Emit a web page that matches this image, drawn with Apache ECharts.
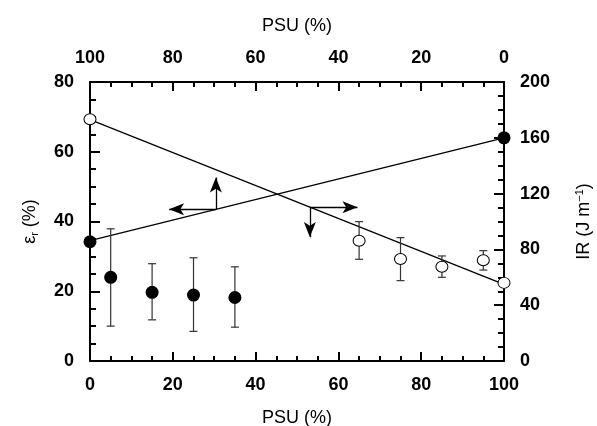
<!DOCTYPE html>
<html>
<head>
<meta charset="utf-8">
<script src="https://cdn.jsdelivr.net/npm/echarts@6/dist/echarts.min.js"></script>
<style>html,body{margin:0;padding:0;background:#fff}#c{width:597px;height:426px}</style>
</head>
<body>
<div id="c"></div>
<script>
// ε_r (left axis) plotted against top PSU axis (100 at left)
var erPSU   = [100, 95, 85, 75, 65, 0];
var erVal   = [34.2, 24.0, 19.7, 18.9, 18.2, 64.0];
var erLow   = [null, 10.0, 11.8, 8.5, 9.7, null];
var erHigh  = [null, 37.9, 27.9, 29.6, 27.0, null];
var erFitPSU = [100, 0];
var erFitVal = [34.5, 64.0];

// IR (right axis) plotted against bottom PSU axis
var irPSU   = [0, 65, 75, 85, 95, 100];
var irVal   = [173.3, 86.2, 73.1, 67.6, 72.2, 56.0];
var irLow   = [null, 72.9, 57.6, 60.0, 65.2, null];
var irHigh  = [null, 99.9, 88.4, 75.3, 79.1, null];
var irFitPSU = [0, 100];
var irFitVal = [173.0, 55.0];

// axis ticks
var psuTicks = [0, 20, 40, 60, 80, 100];
var erTicks = [0, 20, 40, 60, 80];
var irTicks = [0, 40, 80, 120, 160, 200];

// annotation arrows (data coordinates)
var erArrowBase = [69.6, 43.5], erArrowUp = [69.6, 52.6], erArrowLeft = [80.9, 43.5];
var irArrowBase = [53.1, 110.3], irArrowRight = [64.6, 110.3], irArrowDown = [53.1, 88.8];

function pairs(xs, ys) { return xs.map(function (x, i) { return [x, ys[i]]; }); }
function bars(xs, lo, hi) {
  var out = [];
  xs.forEach(function (x, i) { if (lo[i] != null) out.push([x, lo[i], hi[i]]); });
  return out;
}
function errRender(params, api) {
  var x = api.value(0), lo = api.value(1), hi = api.value(2);
  var p1 = api.coord([x, lo]), p2 = api.coord([x, hi]);
  var w = 4, st = { stroke: '#333', lineWidth: 1.2 };
  return { type: 'group', children: [
    { type: 'line', shape: { x1: p1[0], y1: p1[1], x2: p2[0], y2: p2[1] }, style: st },
    { type: 'line', shape: { x1: p1[0] - w, y1: p1[1], x2: p1[0] + w, y2: p1[1] }, style: st },
    { type: 'line', shape: { x1: p2[0] - w, y1: p2[1], x2: p2[0] + w, y2: p2[1] }, style: st }
  ]};
}

var FONT = 'Liberation Sans';
var labelStyle = { color: '#000', fontSize: 18, fontWeight: 'bold', fontFamily: FONT };
function xAx(pos, inverse) {
  return {
    type: 'value', position: pos, inverse: inverse, min: 0, max: 100, interval: 20,
    name: 'PSU (%)', nameLocation: 'middle', nameGap: pos === 'bottom' ? 48 : 47,
    nameTextStyle: { color: '#000', fontSize: 18, fontFamily: FONT },
    axisLine: { show: true, onZero: false, lineStyle: { color: '#000', width: 2 } },
    axisTick: { show: true, inside: true, length: 9, lineStyle: { color: '#000', width: 2 } },
    minorTick: { show: true, splitNumber: 4, length: 5, lineStyle: { color: '#000', width: 2 } },
    axisLabel: Object.assign({ margin: 15 }, labelStyle),
    splitLine: { show: false }, minorSplitLine: { show: false }
  };
}

var option = {
  backgroundColor: '#fff',
  animation: false,
  grid: { left: 90, right: 93, top: 82, bottom: 65, containLabel: false, outerBoundsMode: 'none' },
  xAxis: [xAx('bottom', false), xAx('top', true)],
  yAxis: [
    {
      type: 'value', position: 'left', min: 0, max: 80, interval: 20,
      name: '{a|ε}{s|r}{a| (%)}', nameLocation: 'middle', nameGap: 50, nameRotate: 90,
      nameTextStyle: { rich: {
        a: { fontSize: 18, fontFamily: FONT, color: '#000' },
        s: { fontSize: 11, fontFamily: FONT, color: '#000', padding: [8, 0, 0, 0] }
      } },
      axisLine: { show: true, onZero: false, lineStyle: { color: '#000', width: 2 } },
      axisTick: { show: true, inside: true, length: 10, lineStyle: { color: '#000', width: 2 } },
      minorTick: { show: true, splitNumber: 4, length: 6, lineStyle: { color: '#000', width: 2 } },
      axisLabel: Object.assign({ margin: 16 }, labelStyle),
      splitLine: { show: false }
    },
    {
      type: 'value', position: 'right', min: 0, max: 200, interval: 40,
      name: '{a|IR (J m}{s|−1}{a|)}', nameLocation: 'middle', nameGap: 70, nameRotate: 90,
      nameTextStyle: { rich: {
        a: { fontSize: 18, fontFamily: FONT, color: '#000' },
        s: { fontSize: 11, fontFamily: FONT, color: '#000', padding: [0, 0, 10, 0] }
      } },
      axisLine: { show: true, onZero: false, lineStyle: { color: '#000', width: 2 } },
      axisTick: { show: true, inside: true, length: 10, lineStyle: { color: '#000', width: 2 } },
      minorTick: { show: true, splitNumber: 4, length: 6, lineStyle: { color: '#000', width: 2 } },
      axisLabel: Object.assign({ margin: 16 }, labelStyle),
      splitLine: { show: false }
    }
  ],
  series: [
    {
      type: 'line', xAxisIndex: 1, yAxisIndex: 0, data: pairs(erFitPSU, erFitVal),
      showSymbol: false, silent: true, z: 2,
      lineStyle: { color: '#000', width: 1.3 },
      markLine: {
        silent: true, symbol: ['none', 'arrow'], symbolSize: [9, 15],
        label: { show: false },
        lineStyle: { color: '#000', width: 1.3, type: 'solid' },
        data: [
          [{ coord: erArrowBase }, { coord: erArrowUp }],
          [{ coord: erArrowBase }, { coord: erArrowLeft }]
        ]
      }
    },
    {
      type: 'line', xAxisIndex: 0, yAxisIndex: 1, data: pairs(irFitPSU, irFitVal),
      showSymbol: false, silent: true, z: 2,
      lineStyle: { color: '#000', width: 1.3 },
      markLine: {
        silent: true, symbol: ['none', 'arrow'], symbolSize: [9, 15],
        label: { show: false },
        lineStyle: { color: '#000', width: 1.3, type: 'solid' },
        data: [
          [{ coord: irArrowBase }, { coord: irArrowRight }],
          [{ coord: irArrowBase }, { coord: irArrowDown }]
        ]
      }
    },
    {
      type: 'custom', xAxisIndex: 1, yAxisIndex: 0, data: bars(erPSU, erLow, erHigh),
      renderItem: errRender, encode: { x: 0, y: [1, 2] }, z: 3, silent: true
    },
    {
      type: 'custom', xAxisIndex: 0, yAxisIndex: 1, data: bars(irPSU, irLow, irHigh),
      renderItem: errRender, encode: { x: 0, y: [1, 2] }, z: 3, silent: true
    },
    {
      type: 'scatter', xAxisIndex: 1, yAxisIndex: 0, data: pairs(erPSU, erVal),
      symbol: 'circle', symbolSize: 13, z: 5, silent: true,
      itemStyle: { color: '#000', opacity: 1 }
    },
    {
      type: 'scatter', xAxisIndex: 0, yAxisIndex: 1, data: pairs(irPSU, irVal),
      symbol: 'circle', symbolSize: [12, 11], z: 5, silent: true,
      itemStyle: { color: '#fff', borderColor: '#000', borderWidth: 1, opacity: 1 }
    }
  ]
};
var chart = echarts.init(document.getElementById('c'), null, { renderer: 'canvas' });
chart.setOption(option);
</script>
</body>
</html>
